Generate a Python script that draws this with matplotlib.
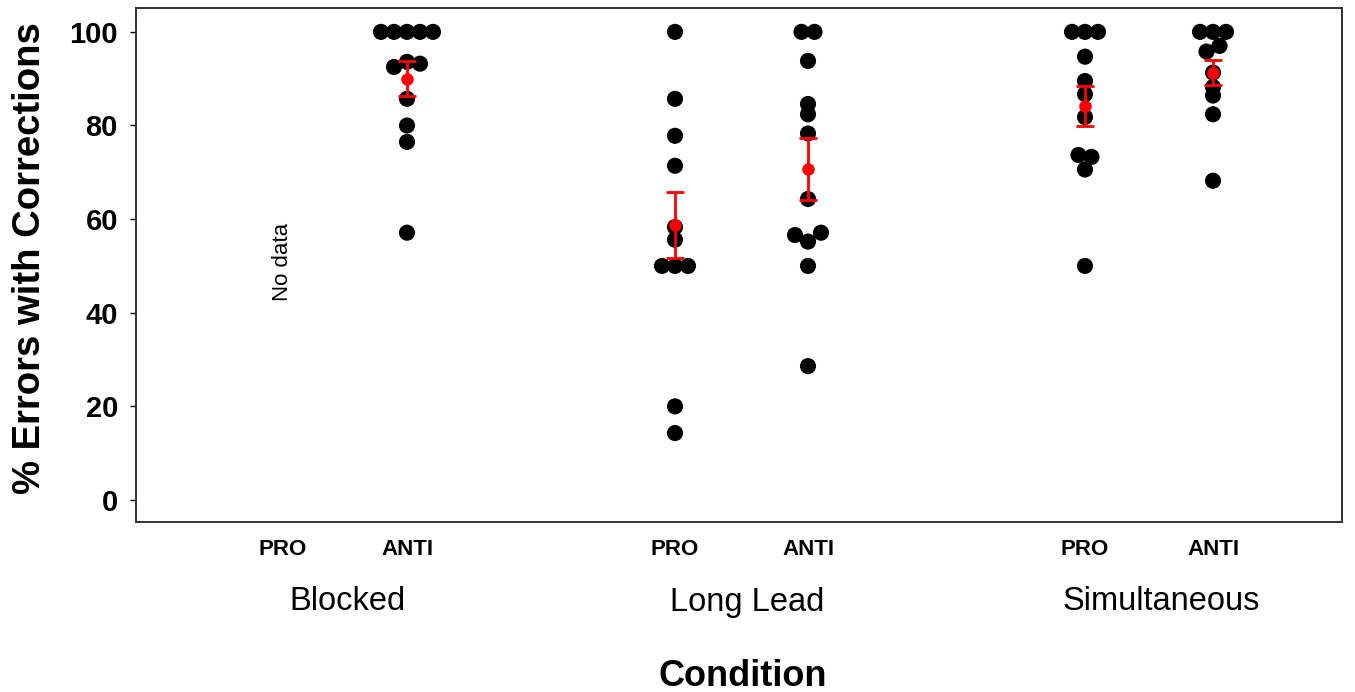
import numpy as np
import matplotlib
matplotlib.use("Agg")
import matplotlib.pyplot as plt
from matplotlib.transforms import blended_transform_factory

plt.rcParams["font.family"] = ["Liberation Sans", "DejaVu Sans"]

# ── data ──────────────────────────────────────────────────────────────────
groups = ["Blocked", "Long Lead", "Simultaneous"]
tasks = ["PRO", "ANTI"]

blocked_pro = []                                   # no data
blocked_anti = [100, 100, 100, 100, 100, 93.6, 92.5, 93.2, 85.7, 80.0, 76.5, 57.1]
longlead_pro = [100, 85.7, 77.8, 71.4, 58.3, 55.6, 50, 50, 50, 20.0, 14.3]
longlead_anti = [100, 100, 93.8, 84.6, 82.4, 78.3, 64.3, 55.2, 56.6, 57.1, 50.0, 28.6]
sim_pro = [100, 100, 100, 94.7, 89.5, 86.7, 81.8, 73.7, 73.3, 70.6, 50.0]
sim_anti = [100, 100, 100, 95.8, 97.0, 91.3, 88.2, 86.4, 82.4, 68.2]

mean_vals = [np.nan, 90.0, 58.8, 70.7, 84.1, 91.3]
sem_vals = [np.nan, 3.75, 7.1, 6.6, 4.3, 2.6]

columns = [blocked_pro, blocked_anti, longlead_pro, longlead_anti, sim_pro, sim_anti]

# ── layout ────────────────────────────────────────────────────────────────
col_x = [283, 407, 675, 808, 1085, 1213]   # column centres (axis units ~ pixels)
group_label_x = [348, 747, 1161]
XLIM = (136, 1342)
YLIM = (-4.7, 105.1)
STEP = 13        # horizontal spacing of tied dots
BIN = 2.5        # values in the same bin are spread sideways


def swarm_x(vals, centre):
    vals = np.asarray(vals, dtype=float)
    xs = np.full(len(vals), float(centre))
    bins = np.floor(vals / BIN + 1e-9)
    for b in np.unique(bins):
        idx = np.where(bins == b)[0]
        n = len(idx)
        for k, i in enumerate(idx):
            if n % 2:
                off = ((k + 1) // 2) * (-1 if k % 2 else 1)
            else:
                off = (k // 2 + 0.5) * (-1 if k % 2 == 0 else 1)
            xs[i] = centre + off * STEP
    return xs


fig = plt.figure(figsize=(13.55, 6.92), dpi=100)
ax = fig.add_axes([136 / 1355, 1 - 522 / 692, 1206 / 1355, 514 / 692])

for vals, cx in zip(columns, col_x):
    if not vals:
        continue
    ax.scatter(swarm_x(vals, cx), vals, s=135, color="black", edgecolor="none", zorder=2)

for cx, m, e in zip(col_x, mean_vals, sem_vals):
    if np.isnan(m):
        continue
    ax.errorbar(cx, m, yerr=e, fmt="o", color="red", ms=8, elinewidth=2,
                capsize=6.5, capthick=2, zorder=3)

ax.text(col_x[0], 50.9, "No data", rotation=90, ha="center", va="center", fontsize=16)

ax.set_xlim(*XLIM)
ax.set_ylim(*YLIM)
ax.set_yticks(np.arange(0, 101, 20))
ax.tick_params(axis="y", length=4, width=1, pad=9, labelsize=21)
for lab in ax.get_yticklabels():
    lab.set_fontweight("bold")

ax.set_xticks(col_x, tasks * len(groups))
ax.tick_params(axis="x", length=0, pad=12, labelsize=16)
for lab in ax.get_xticklabels():
    lab.set_fontweight("bold")

for sp in ax.spines.values():
    sp.set_linewidth(1.4)
    sp.set_color("#333333")

trans = blended_transform_factory(ax.transData, ax.transAxes)
for gx, name in zip(group_label_x, groups):
    ax.text(gx, -80 / 514, name, transform=trans, ha="center", va="center", fontsize=23.5)

fig.text(30 / 1355, 1 - 258 / 692, "% Errors with Corrections", rotation=90,
         ha="center", va="center", fontsize=27.5, fontweight="bold")
fig.text(743 / 1355, 1 - 677 / 692, "Condition", ha="center", va="center",
         fontsize=26, fontweight="bold")

fig.savefig("out.png", dpi=100)
